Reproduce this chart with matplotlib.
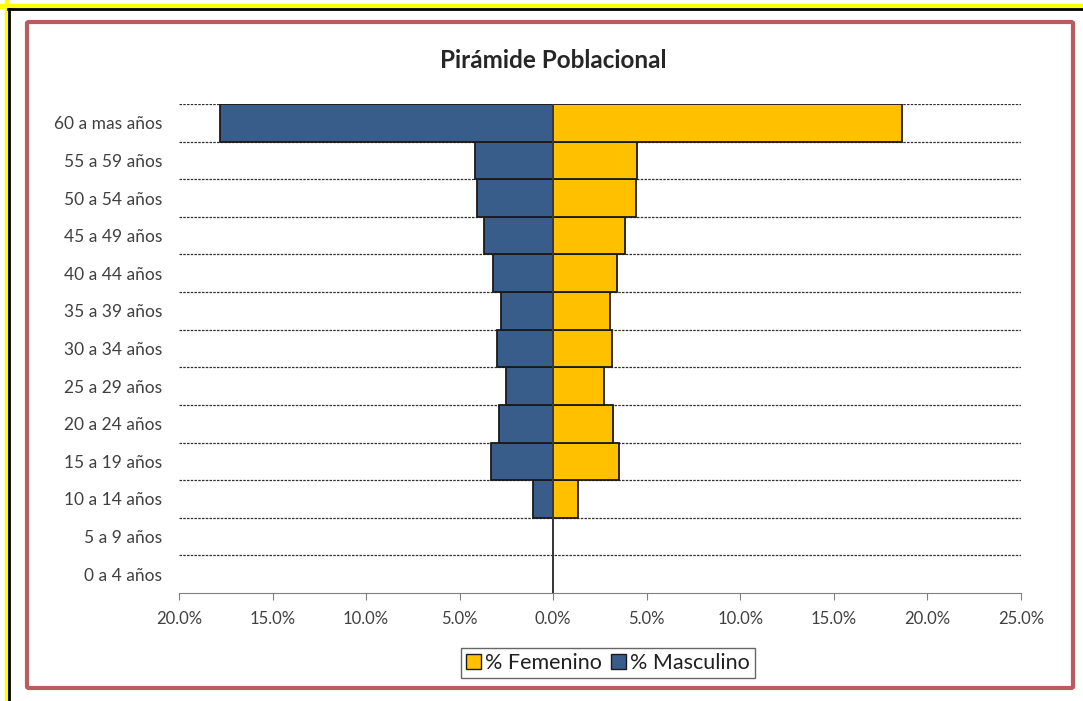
import matplotlib
matplotlib.use('Agg')
import matplotlib.pyplot as plt
from matplotlib.patches import FancyBboxPatch, Patch, Rectangle
from matplotlib.ticker import FuncFormatter, FixedLocator

# Age groups from bottom to top, values in %
grupos = ['0 a 4 años', '5 a 9 años', '10 a 14 años', '15 a 19 años', '20 a 24 años',
          '25 a 29 años', '30 a 34 años', '35 a 39 años', '40 a 44 años', '45 a 49 años',
          '50 a 54 años', '55 a 59 años', '60 a mas años']
masculino = [0, 0, 1.1, 3.3, 2.9, 2.5, 3.0, 2.8, 3.2, 3.7, 4.1, 4.2, 17.8]
femenino = [0, 0, 1.35, 3.5, 3.2, 2.7, 3.15, 3.05, 3.4, 3.85, 4.4, 4.5, 18.65]
xticks = [-20, -15, -10, -5, 0, 5, 10, 15, 20, 25]

plt.rcParams['font.family'] = ['Lato', 'DejaVu Sans']

fig = plt.figure(figsize=(10.83, 7.01), dpi=100)
W, H = 1083, 701

# outer frame: yellow + black line on top and left
fig.patches.append(Rectangle((0, 1 - 8 / H), 1, 3.5 / H, transform=fig.transFigure,
                             color='#ffff00', zorder=0))
fig.patches.append(Rectangle((4.5 / W, 0), 3.5 / W, 1, transform=fig.transFigure,
                             color='#ffff00', zorder=0))
fig.add_artist(plt.Line2D([8 / W, 1], [1 - 9 / H, 1 - 9 / H], transform=fig.transFigure,
                          color='black', lw=2))
fig.add_artist(plt.Line2D([9 / W, 9 / W], [0, 1 - 9 / H], transform=fig.transFigure,
                          color='black', lw=2))

# chart border
fig.patches.append(FancyBboxPatch((27 / W, 1 - 688 / H), (1073 - 27) / W, (688 - 22) / H,
                                  boxstyle='round,pad=0,rounding_size=0.002',
                                  transform=fig.transFigure, fill=False,
                                  edgecolor='#b85c5e', lw=3, zorder=1))

ax = fig.add_axes([179 / W, 1 - 593 / H, (1021 - 179) / W, (593 - 104) / H])

y = range(len(grupos))
neg_m = [-v for v in masculino]
ax.barh(y, femenino, height=1.0, color='#ffc000', edgecolor='#1a1a1a', lw=1.3,
        label='% Femenino', zorder=3)
ax.barh(y, neg_m, height=1.0, color='#385d8a', edgecolor='#1a1a1a', lw=1.3,
        label='% Masculino', zorder=3)

ax.set_xlim(-20, 25)
ax.set_ylim(-0.5, len(grupos) - 0.5)
ax.set_xticks(xticks)
ax.xaxis.set_major_formatter(FuncFormatter(lambda v, p: f'{abs(v):.1f}%'))
ax.set_yticks(list(y))
ax.set_yticklabels(grupos)
ax.yaxis.set_minor_locator(FixedLocator([i + 0.5 for i in range(len(grupos))]))
ax.grid(which='minor', axis='y', linestyle=(0, (2, 1)), color='#303030', lw=0.9, zorder=1)
ax.tick_params(axis='y', which='both', length=0, pad=12, labelsize=12.5, labelcolor='#404040')
ax.tick_params(axis='x', direction='out', length=5, color='#808080', pad=8,
               labelsize=12, labelcolor='#404040')
for s in ['top', 'right', 'left']:
    ax.spines[s].set_visible(False)
ax.spines['bottom'].set_color('#808080')
ax.axvline(0, color='#404040', lw=1.2, zorder=4)

fig.text(553 / W, 1 - 60 / H, 'Pirámide Poblacional', ha='center', va='center',
         fontsize=17.5, fontweight='bold', color='#262626')

handles = [Patch(facecolor='#ffc000', edgecolor='#1a1a1a', label='% Femenino'),
           Patch(facecolor='#385d8a', edgecolor='#1a1a1a', label='% Masculino')]
leg = fig.legend(handles=handles, loc='center', bbox_to_anchor=(608 / W, 1 - 663 / H),
                 ncol=2, frameon=True, fancybox=False, edgecolor='#404040',
                 fontsize=15.5, handlelength=0.7, handleheight=0.7, handletextpad=0.2,
                 columnspacing=0.4, borderpad=0.25, borderaxespad=0)
leg.get_frame().set_linewidth(1)
for t in leg.get_texts():
    t.set_color('#202020')

fig.savefig('out.png', dpi=100)
